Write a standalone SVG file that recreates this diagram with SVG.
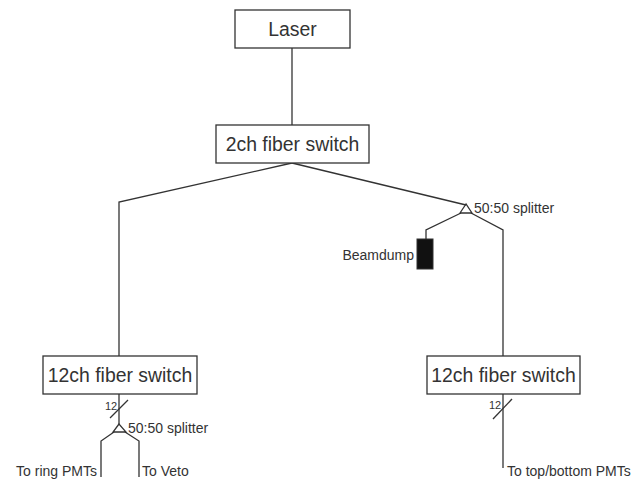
<svg xmlns="http://www.w3.org/2000/svg" width="643" height="479" viewBox="0 0 643 479">
<style>
.box{fill:#fff;stroke:#333;stroke-width:1.3}
.ln{fill:none;stroke:#333;stroke-width:1.3}
.t{font-family:"Liberation Sans",Arial,sans-serif;fill:#333}
.big{font-size:19.4px;text-anchor:middle}
.sm{font-size:14px}
.xs{font-size:11px}
</style>
<rect width="643" height="479" fill="#fff"/>
<g id="connectors">
<line class="ln" x1="292" y1="48" x2="292" y2="125"/>
<polyline class="ln" points="292,163 119,202 119,356"/>
<polyline class="ln" points="292,163 466,205"/>
<polyline class="ln" points="461,213 426,230 426,239"/>
<polyline class="ln" points="471,213 503,230 503,356"/>
<line class="ln" x1="119" y1="394" x2="119" y2="424"/>
<line class="ln" x1="110" y1="418" x2="128" y2="400"/>
<polyline class="ln" points="114,432 101,441 101,477"/>
<polyline class="ln" points="125,432 139,441 139,477"/>
<line class="ln" x1="503" y1="394" x2="503" y2="468"/>
<line class="ln" x1="493" y1="419" x2="512" y2="399"/>
</g>
<g id="laser"><rect class="box" x="235" y="10" width="115" height="38"/><text class="t big" x="292.5" y="36">Laser</text></g>
<g id="switch2"><rect class="box" x="216" y="125" width="153" height="38"/><text class="t big" x="292.5" y="151">2ch fiber switch</text></g>
<g id="switch12left"><rect class="box" x="43" y="356" width="154" height="38"/><text class="t big" x="120" y="382">12ch fiber switch</text></g>
<g id="switch12right"><rect class="box" x="427" y="356" width="153" height="38"/><text class="t big" x="503.5" y="382">12ch fiber switch</text></g>
<g id="splitter1"><polygon class="ln" points="466,204 460,213 472,213"/><text class="t sm" x="474" y="213">50:50 splitter</text></g>
<g id="beamdump"><rect x="417" y="239" width="16" height="30" fill="#111" stroke="#333"/><text class="t sm" x="414" y="260" text-anchor="end">Beamdump</text></g>
<g id="splitter2"><polygon class="ln" points="119,424 113,432 126,432"/><text class="t sm" x="128" y="433">50:50 splitter</text></g>
<g id="labels">
<text class="t xs" x="105" y="410">12</text>
<text class="t xs" x="489" y="409">12</text>
<text class="t sm" x="97" y="476" text-anchor="end">To ring PMTs</text>
<text class="t sm" x="142" y="476">To Veto</text>
<text class="t sm" x="507" y="476">To top/bottom PMTs</text>
</g>
</svg>
